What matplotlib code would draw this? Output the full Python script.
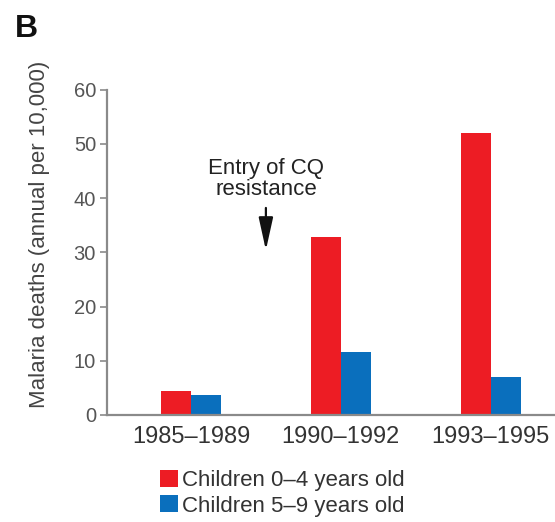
import numpy as np
import matplotlib
matplotlib.use('Agg')
import matplotlib.pyplot as plt

plt.rcParams['font.family'] = ['Liberation Sans', 'DejaVu Sans']

# data
periods = ['1985\u20131989', '1990\u20131992', '1993\u20131995']
kids_0_4 = [4.4, 32.8, 52.0]
kids_5_9 = [3.7, 11.6, 7.0]
labels = ['Children 0\u20134 years old', 'Children 5\u20139 years old']
colors = ['#ed1c24', '#0a6fbd']

fig = plt.figure(figsize=(5.55, 5.22), dpi=100)
ax = fig.add_axes([0.193, 0.205, 0.807, 0.623])

x = np.arange(len(periods))
w = 0.2
b1 = ax.bar(x - w/2, kids_0_4, w, color=colors[0], label=labels[0])
b2 = ax.bar(x + w/2, kids_5_9, w, color=colors[1], label=labels[1])

ax.set_xlim(-0.56, 2.43)
ax.set_ylim(0, 60)
ax.set_yticks([0, 10, 20, 30, 40, 50, 60])
ax.set_xticks(x)
ax.set_xticklabels(periods)

for s in ['top', 'right']:
    ax.spines[s].set_visible(False)
for s in ['left', 'bottom']:
    ax.spines[s].set_color('#8a8a8a')
    ax.spines[s].set_linewidth(1.6)

ax.tick_params(axis='y', length=5, width=1.2, color='#8a8a8a', labelsize=14.5, labelcolor='#555555', pad=3)
ax.tick_params(axis='x', length=0, labelsize=17, labelcolor='#333333', pad=8)
ax.set_ylabel('Malaria deaths (annual per 10,000)', fontsize=16, color='#444444')
ax.yaxis.set_label_coords(-0.128, 0.555)

ax.annotate('', xy=(0.5, 30.4), xytext=(0.5, 38.2),
            arrowprops=dict(arrowstyle='-|>,head_width=0.22,head_length=1.0', mutation_scale=20,
                            color='#111111', lw=1.6, shrinkA=0, shrinkB=0))
ax.text(0.5, 43.6, 'Entry of CQ\nresistance', ha='center', va='center', fontsize=16,
        color='#222222', linespacing=1.0)

fig.text(0.027, 0.93, 'B', fontsize=23, fontweight='bold', color='#111111')

leg = fig.legend(handles=[b1, b2], loc='upper left', bbox_to_anchor=(0.288, 0.100),
                 frameon=False, fontsize=16, handlelength=0.8, handleheight=0.8,
                 handletextpad=0.2, labelspacing=0.2, borderpad=0, borderaxespad=0)
for t in leg.get_texts():
    t.set_color('#333333')

fig.savefig('out.png', dpi=100)
